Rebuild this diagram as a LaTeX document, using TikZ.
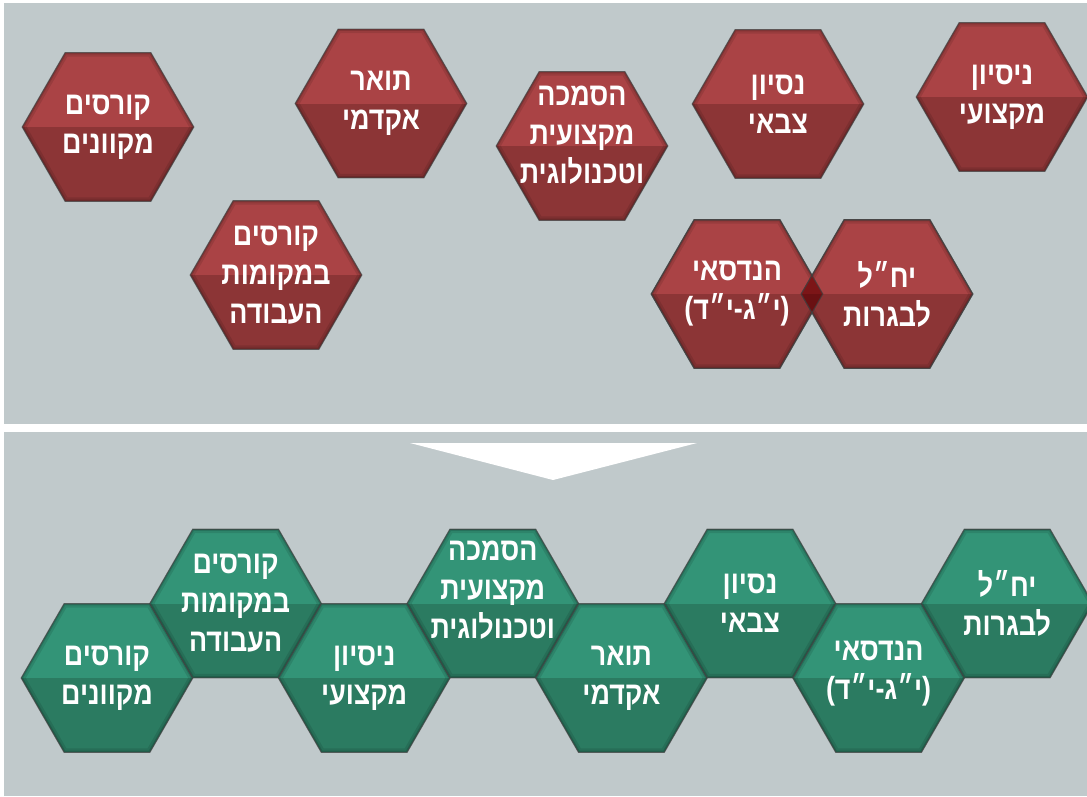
\documentclass[tikz,border=0pt]{standalone}
\usepackage{fontspec}
\newfontfamily\hebfont[Script=Hebrew,FakeStretch=0.84]{Liberation Sans Bold}
\TeXXeTstate=1
\usetikzlibrary{shapes.geometric,calc}
\definecolor{bg}{HTML}{C0C9CB}
\definecolor{rtop}{HTML}{AA4345}
\definecolor{rbot}{HTML}{8C3536}
\definecolor{gtop}{HTML}{339477}
\definecolor{gbot}{HTML}{2B7B61}
\definecolor{otop}{HTML}{7C1517}
\definecolor{obot}{HTML}{6A1012}
\newcommand\hexcells[1]{(#1.corner 1) -- (#1.corner 2) -- (#1.corner 3) -- (#1.corner 4) -- (#1.corner 5) -- (#1.corner 6) -- cycle}
\newcommand\drawhex[5]{%
  \node[hexbase] (#1) at (#2,#3) {};
  \begin{scope}
    \clip \hexcells{#1};
    \fill[#4] ($(#1.center)+(-95,-80)$) rectangle ($(#1.center)+(95,0)$);
    \fill[#5] ($(#1.center)+(-95,0)$) rectangle ($(#1.center)+(95,80)$);
    \draw[line width=8pt, black, opacity=0.10] \hexcells{#1};
    \draw[line width=3.5pt, black, opacity=0.14] \hexcells{#1};
  \end{scope}
  \draw[hexedge] \hexcells{#1};
}
\tikzset{
  hexbase/.style={regular polygon, regular polygon sides=6, minimum size=171.6pt, inner sep=0pt, outer sep=0pt},
  hexedge/.style={black!75, opacity=0.7, line width=1.1pt, line join=miter},
  hextext/.style={text=white, align=center, inner sep=0pt, font=\hebfont\fontsize{32}{39}\selectfont},
  panel/.style={fill=bg, draw=none},
  arrowtri/.style={fill=white, draw=none}
}
\begin{document}
\begin{tikzpicture}[x=1pt,y=-1pt]
\useasboundingbox (0,0) rectangle (1087,796);
\clip (0,0) rectangle (1087,796);
\fill[white] (0,0) rectangle (1087,796);
\fill[panel] (4,3) rectangle (1087,424);
\fill[panel] (4,432) rectangle (1087,796);
% top panel (unordered)
\drawhex{a1}{108}{127}{rtop}{rbot}
\drawhex{a2}{381}{103.5}{rtop}{rbot}
\drawhex{a3}{582}{146}{rtop}{rbot}
\drawhex{a4}{778}{104}{rtop}{rbot}
\drawhex{a5}{1002}{97}{rtop}{rbot}
\drawhex{a6}{276}{275}{rtop}{rbot}
\drawhex{a7}{737}{294}{rtop}{rbot}
\drawhex{a8}{887}{294}{rtop}{rbot}
\begin{scope}
  \clip \hexcells{a7};
  \clip \hexcells{a8};
  \fill[otop] ($(a7.center)+(0,-80)$) rectangle ($(a8.center)$);
  \fill[obot] ($(a7.center)$) rectangle ($(a8.center)+(0,80)$);
\end{scope}
\draw[hexedge] \hexcells{a7};
\draw[hexedge] \hexcells{a8};
\node[hextext] (ta1) at (a1) {\beginR קורסים\endR\\\beginR מקוונים\endR};
\node[hextext] (ta2) at (a2) {\beginR תואר\endR\\\beginR אקדמי\endR};
\node[hextext] (ta3) at ($(a3)+(0,-11)$) {\beginR הסמכה\endR\\\beginR מקצועית\endR\\\beginR וטכנולוגית\endR};
\node[hextext] (ta4) at (a4) {\beginR נסיון\endR\\\beginR צבאי\endR};
\node[hextext] (ta5) at (a5) {\beginR ניסיון\endR\\\beginR מקצועי\endR};
\node[hextext] (ta6) at (a6) {\beginR קורסים\endR\\\beginR במקומות\endR\\\beginR העבודה\endR};
\node[hextext] (ta7) at (a7) {\beginR הנדסאי\endR\\(י״ג-י״ד)};
\node[hextext] (ta8) at (a8) {\beginR יח״ל\endR\\\beginR לבגרות\endR};
% arrow
\fill[arrowtri] (410,443) -- (697,443) -- (553,480) -- cycle;
% bottom panel (honeycomb path)
\drawhex{b1}{107}{678}{gtop}{gbot}
\drawhex{b2}{235.6}{603.5}{gtop}{gbot}
\drawhex{b3}{364.2}{678}{gtop}{gbot}
\drawhex{b4}{492.8}{603.5}{gtop}{gbot}
\drawhex{b5}{621.4}{678}{gtop}{gbot}
\drawhex{b6}{750}{603.5}{gtop}{gbot}
\drawhex{b7}{878.6}{678}{gtop}{gbot}
\drawhex{b8}{1007.2}{603.5}{gtop}{gbot}
\node[hextext] (tb1) at (b1) {\beginR קורסים\endR\\\beginR מקוונים\endR};
\node[hextext] (tb2) at (b2) {\beginR קורסים\endR\\\beginR במקומות\endR\\\beginR העבודה\endR};
\node[hextext] (tb3) at (b3) {\beginR ניסיון\endR\\\beginR מקצועי\endR};
\node[hextext] (tb4) at ($(b4)+(0,-13)$) {\beginR הסמכה\endR\\\beginR מקצועית\endR\\\beginR וטכנולוגית\endR};
\node[hextext] (tb5) at (b5) {\beginR תואר\endR\\\beginR אקדמי\endR};
\node[hextext] (tb6) at (b6) {\beginR נסיון\endR\\\beginR צבאי\endR};
\node[hextext] (tb7) at ($(b7)+(0,-4)$) {\beginR הנדסאי\endR\\(י״ג-י״ד)};
\node[hextext] (tb8) at (b8) {\beginR יח״ל\endR\\\beginR לבגרות\endR};
\end{tikzpicture}
\end{document}
